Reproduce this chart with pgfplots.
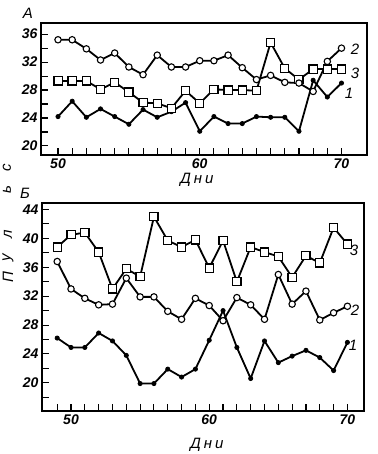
\documentclass[border=0pt]{standalone}
\usepackage{fontspec}
\setmainfont{Liberation Sans}
\usepackage{pgfplots}
\pgfplotsset{compat=1.18}
\pgfplotstableread{
d s1 s2 s3
50 24.2 35.2 29.3
51 26.4 35.2 29.3
52 24.1 33.9 29.3
53 25.3 32.3 28.1
54 24.2 33.3 29.1
55 23.1 31.3 27.7
56 25.2 30.2 26.2
57 24.1 33.0 26.1
58 24.9 31.3 25.4
59 26.2 31.3 27.9
60 22.1 32.2 26.1
61 24.2 32.2 28.1
62 23.2 33.0 28.0
63 23.2 31.2 28.0
64 24.2 29.5 27.9
65 24.1 30.1 34.8
66 24.1 29.1 31.1
67 22.1 29.0 29.5
68 29.4 27.8 31.0
69 27.0 32.1 31.0
70 29.0 34.0 31.0
}\dataA
\pgfplotstableread{
d s1 s2 s3
49 26.2 36.8 38.8
50 24.9 33.0 40.5
51 24.9 31.7 40.8
52 26.9 30.8 38.1
53 25.8 30.9 33.0
54 23.8 34.5 35.8
55 19.9 31.9 34.7
56 19.9 31.9 43.0
57 21.9 29.9 39.7
58 20.8 28.8 38.8
59 21.9 31.7 39.8
60 25.9 30.7 35.9
61 30.0 28.6 39.7
62 24.9 31.8 34.0
63 20.6 30.8 38.8
64 25.8 28.8 38.1
65 22.8 35.0 37.5
66 23.7 30.9 34.6
67 24.5 32.7 37.6
68 23.5 28.7 36.6
69 21.7 29.7 41.5
70 25.6 30.6 39.2
}\dataB
\begin{document}
\begin{tikzpicture}
\path[use as bounding box] (0pt,0pt) rectangle (377pt,-454pt);
\pgfplotsset{
 common/.style={scale only axis, axis line style={line width=1.6pt}, tick style={line width=1.1pt, black}, tick align=inside, xtick pos=bottom, ytick pos=left, major tick length=7pt, minor tick length=7pt, /pgf/number format/assume math mode=true, ticklabel style={font=\fontsize{14}{16}\selectfont\bfseries\itshape}, every axis plot/.append style={line width=1.8pt, black}, clip=false},
 s1/.style={mark=*, mark size=2.1pt, mark options={fill=black, draw=black, line width=0.8pt}},
 s2/.style={mark=*, mark size=3.2pt, mark options={fill=white, draw=black, line width=1.1pt}},
 s3/.style={mark=square*, mark size=4.1pt, mark options={fill=white, draw=black, line width=1.2pt}},
}
\begin{axis}[common, at={(41pt,-155pt)}, anchor=south west, width=326pt, height=132pt,
 xmin=48.8, xmax=71.8, ymin=18.7, ymax=37.6,
 xtick={50,60,70}, minor xtick={51,...,59,61,62,...,69},
 ytick={20,24,28,32,36}, minor ytick={22,26,30,34}]
\addplot[s1] table[x=d,y=s1] {\dataA};
\addplot[s3] table[x=d,y=s3] {\dataA};
\addplot[s2] table[x=d,y=s2] {\dataA};
\end{axis}
\begin{axis}[common, at={(42pt,-411pt)}, anchor=south west, width=322pt, height=208pt,
 xmin=47.9, xmax=71.2, ymin=16.1, ymax=44.9,
 xtick={50,60,70}, minor xtick={49,51,52,...,59,61,62,...,69},
 ytick={20,24,...,44}, minor ytick={18,22,...,42}]
\addplot[s1] table[x=d,y=s1] {\dataB};
\addplot[s2] table[x=d,y=s2] {\dataB};
\addplot[s3] table[x=d,y=s3] {\dataB};
\end{axis}
\begin{scope}[every node/.style={font=\fontsize{15}{17}\selectfont\itshape}]
\node at (28pt,-13pt) {А};
\node at (25pt,-193pt) {Б};
\node at (197pt,-180pt) {Д\hspace{3pt}н\hspace{3pt}и};
\node at (207pt,-445pt) {Д\hspace{3pt}н\hspace{3pt}и};
\node at (355pt,-49pt) {2};
\node at (355pt,-73pt) {3};
\node at (349pt,-93pt) {1};
\node at (354pt,-250pt) {3};
\node at (355pt,-310pt) {2};
\node at (353pt,-345pt) {1};
\node[rotate=90] at (8pt,-277pt) {П};
\node[rotate=90] at (8pt,-258pt) {у};
\node[rotate=90] at (8pt,-234pt) {л};
\node[rotate=90] at (7pt,-190pt) {ь};
\node[rotate=90] at (7pt,-168pt) {с};
\end{scope}
\end{tikzpicture}
\end{document}
